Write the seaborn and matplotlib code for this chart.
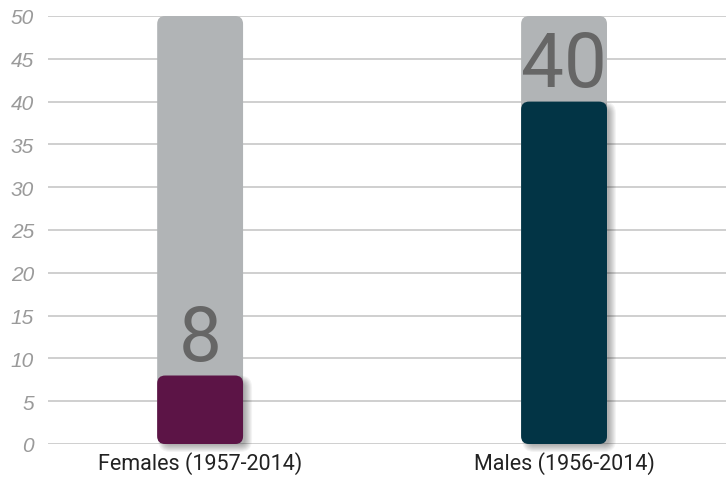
import matplotlib
matplotlib.use("Agg")
import matplotlib.pyplot as plt
import seaborn as sns
import pandas as pd
from matplotlib.patches import FancyBboxPatch

categories = ["Females (1957-2014)", "Males (1956-2014)"]
values = [8, 40]
scale_max = [50, 50]
bar_colors = ["#5c1446", "#023445"]
yticks = [0, 5, 10, 15, 20, 25, 30, 35, 40, 45, 50]

df = pd.DataFrame({"group": categories, "value": values, "total": scale_max})

sns.set_style("white")
fig = plt.figure(figsize=(7.26, 4.85), dpi=100)
ax = fig.add_axes([48 / 726, 40 / 485, 678 / 726, 428 / 485])

bw = 0.236
sns.barplot(data=df, x="group", y="total", color="#b1b4b6", width=bw,
            saturation=1, ax=ax)
n_bg = len(ax.patches)
sns.barplot(data=df, x="group", y="value", hue="group", palette=bar_colors,
            width=bw, saturation=1, legend=False, ax=ax)

ax.set_xlim(-0.418, 1.445)
ax.set_ylim(0, 50)

# rounded corners: radius about 8 px in both directions
rx = 8 / 364
ry = 8 / 8.56
aspect = ry / rx


def rounded(p, color, z, alpha=1.0, dx=0.0, dy=0.0, grow=0.0):
    x, y, w, h = p.get_x(), p.get_y(), p.get_width(), p.get_height()
    gx = grow / 364
    gy = grow / 8.56
    box = FancyBboxPatch((x + dx - gx, y + dy - gy), w + 2 * gx, h + 2 * gy,
                         boxstyle=f"round,pad=0,rounding_size={rx + gx}",
                         mutation_aspect=aspect, facecolor=color,
                         edgecolor="none", alpha=alpha, zorder=z, clip_on=False)
    ax.add_patch(box)


patches = list(ax.patches)
for i, p in enumerate(patches):
    color = p.get_facecolor()
    p.set_visible(False)
    if i < n_bg:
        rounded(p, color, 2)
    else:
        # soft drop shadow to the lower right
        for k in range(8):
            rounded(p, "black", 2.5, alpha=0.045, dx=5 / 364, dy=-4 / 8.56,
                    grow=4 - k)
        rounded(p, color, 3)

for i, v in enumerate(values):
    ax.text(i, v - 0.1, str(v), ha="center", va="bottom", fontsize=55,
            color="#666666", family="Roboto", fontweight="normal", zorder=4)

ax.set_yticks(yticks)
ax.yaxis.grid(True, color="#cccccc", linewidth=1.3)
ax.set_axisbelow(True)
for s in ax.spines.values():
    s.set_visible(False)
ax.tick_params(axis="y", length=0, pad=10, labelsize=15, labelcolor="#9a9a9a")
ax.tick_params(axis="x", length=0, pad=5, labelsize=15.5, labelcolor="#222222")
for lab in ax.get_yticklabels():
    lab.set_fontstyle("italic")
    lab.set_family("Liberation Sans")
for lab in ax.get_xticklabels():
    lab.set_family("Roboto")
ax.set_xlabel("")
ax.set_ylabel("")

fig.savefig("out.png", dpi=100)
